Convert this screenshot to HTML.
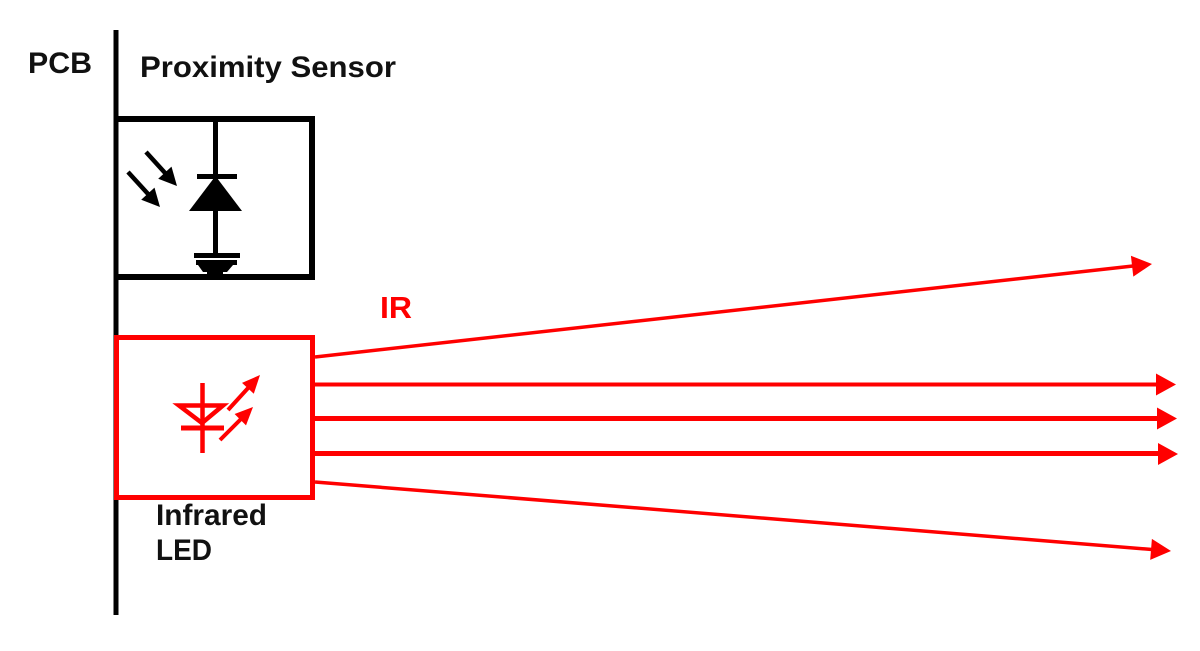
<!DOCTYPE html>
<html>
<head>
<meta charset="utf-8">
<style>
html,body{margin:0;padding:0;background:#fff;}
svg{display:block;}
text{font-family:"Liberation Sans",Arial,sans-serif;font-weight:bold;}
</style>
</head>
<body>
<svg width="1200" height="651" viewBox="0 0 1200 651" xmlns="http://www.w3.org/2000/svg">
  <rect width="1200" height="651" fill="#fff"/>

  <!-- Labels -->
  <text x="28" y="73" font-size="30" fill="#111" textLength="64" lengthAdjust="spacingAndGlyphs">PCB</text>
  <text x="140" y="77" font-size="30" fill="#111" textLength="256" lengthAdjust="spacingAndGlyphs">Proximity Sensor</text>
  <text x="380" y="318" font-size="31" fill="#ff0000" font-weight="normal" textLength="32" lengthAdjust="spacingAndGlyphs">IR</text>
  <text x="156" y="525" font-size="30" fill="#111" textLength="111" lengthAdjust="spacingAndGlyphs">Infrared</text>
  <text x="156" y="560" font-size="30" fill="#111" textLength="56" lengthAdjust="spacingAndGlyphs">LED</text>

  <!-- PCB line -->
  <line x1="116" y1="30" x2="116" y2="615" stroke="#000" stroke-width="5"/>

  <!-- Sensor box -->
  <path d="M116,119 H312 V277 H116" fill="none" stroke="#000" stroke-width="6"/>

  <!-- Photodiode -->
  <line x1="215.5" y1="121" x2="215.5" y2="254" stroke="#000" stroke-width="5"/>
  <rect x="197" y="174" width="40" height="5" fill="#000"/>
  <polygon points="215.5,176 189,211 242,211" fill="#000"/>
  <!-- ground -->
  <rect x="194" y="253" width="46" height="5" fill="#000"/>
  <rect x="196" y="260" width="41" height="5" fill="#000"/>
  <polygon points="198,265 233,265 227,272 203,272" fill="#000"/>
  <rect x="207" y="272" width="16" height="5" fill="#000"/>

  <!-- incoming light arrows (black) -->
  <line x1="146" y1="152" x2="166" y2="174" stroke="#000" stroke-width="4.5"/>
  <polygon points="177,186 158.2,178.8 171.5,166.6" fill="#000"/>
  <line x1="128" y1="172" x2="149" y2="195" stroke="#000" stroke-width="4.5"/>
  <polygon points="160,207 141.2,199.8 154.5,187.6" fill="#000"/>

  <!-- Red LED box -->
  <rect x="116.5" y="337.5" width="196" height="160" fill="none" stroke="#ff0000" stroke-width="5"/>

  <!-- LED symbol -->
  <line x1="202.5" y1="383" x2="202.5" y2="453" stroke="#ff0000" stroke-width="4.5"/>
  <polygon points="179,405.5 223,405.5 202,423" fill="none" stroke="#ff0000" stroke-width="4.5" stroke-linejoin="miter"/>
  <line x1="181" y1="428" x2="224" y2="428" stroke="#ff0000" stroke-width="5"/>
  <!-- emitting arrows -->
  <line x1="228" y1="410" x2="249" y2="387" stroke="#ff0000" stroke-width="4"/>
  <polygon points="260,375 253.8,393.7 242.0,382.9" fill="#ff0000"/>
  <line x1="220" y1="440" x2="241.5" y2="418.5" stroke="#ff0000" stroke-width="4"/>
  <polygon points="253,407 246.0,425.4 234.6,414.0" fill="#ff0000"/>

  <!-- IR rays -->
  <line x1="315" y1="357" x2="1133" y2="266" stroke="#ff0000" stroke-width="3.5"/>
  <polygon points="1152,264 1133.3,276.6 1130.9,255.8" fill="#ff0000"/>

  <line x1="315" y1="384.5" x2="1158" y2="384.5" stroke="#ff0000" stroke-width="4"/>
  <polygon points="1176,384.5 1156,373.5 1156,395.5" fill="#ff0000"/>

  <line x1="315" y1="418.5" x2="1159" y2="418.5" stroke="#ff0000" stroke-width="5"/>
  <polygon points="1177,418.5 1157,407.5 1157,429.5" fill="#ff0000"/>

  <line x1="315" y1="453.5" x2="1160" y2="453.5" stroke="#ff0000" stroke-width="5"/>
  <polygon points="1178,454 1158,443 1158,465" fill="#ff0000"/>

  <line x1="315" y1="482" x2="1152" y2="549.5" stroke="#ff0000" stroke-width="3.5"/>
  <polygon points="1171,551 1150.2,559.9 1151.9,538.9" fill="#ff0000"/>
</svg>
</body>
</html>
